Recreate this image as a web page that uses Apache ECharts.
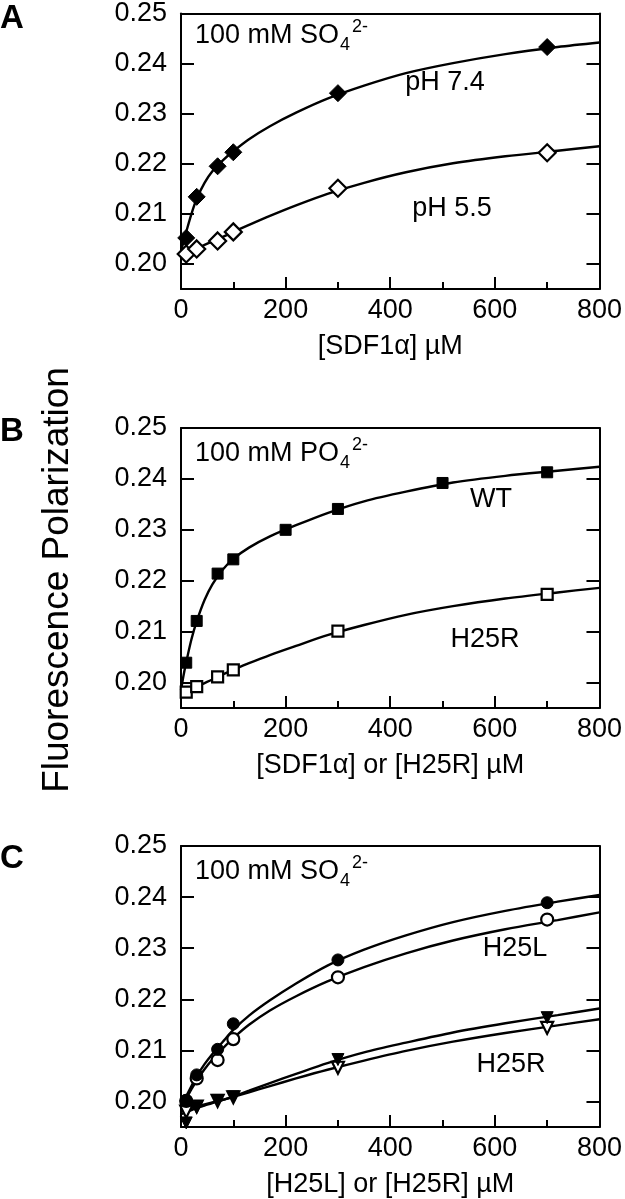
<!DOCTYPE html>
<html>
<head>
<meta charset="utf-8">
<script src="https://cdn.jsdelivr.net/npm/echarts@6/dist/echarts.min.js"></script>
<style>
html,body{margin:0;padding:0;background:#fff;}
#chart{width:625px;height:1199px;}
</style>
</head>
<body>
<div id="chart"></div>
<script>
// ---------- data ----------
const yTickValues = [0.20, 0.21, 0.22, 0.23, 0.24, 0.25];
const fitX = [0, 5, 10, 20, 30, 45, 60, 80, 100, 130, 170, 220, 280, 350, 430, 520, 620, 720, 800];

// Panel A (100 mM SO4)
const concA = [10, 30, 70, 100, 300, 700];
const pH74 = [0.2052, 0.2134, 0.2195, 0.2223, 0.2341, 0.2433];
const pH55 = [0.2020, 0.2030, 0.2046, 0.2064, 0.2151, 0.2222];
const fitPH74 = [0.2025, 0.2045, 0.2064, 0.2100, 0.2130, 0.2162, 0.2185, 0.2207, 0.2225, 0.2249, 0.2275, 0.2302, 0.2330, 0.2356, 0.2381, 0.2401, 0.2419, 0.2433, 0.2442];
const fitPH55 = [0.2015, 0.2018, 0.2021, 0.2026, 0.2031, 0.2038, 0.2045, 0.2054, 0.2064, 0.2078, 0.2096, 0.2117, 0.2140, 0.2162, 0.2183, 0.2201, 0.2215, 0.2226, 0.2235];

// Panel B (100 mM PO4)
const concBwt = [10, 30, 70, 100, 200, 300, 500, 700];
const wtB = [0.2039, 0.2121, 0.2214, 0.2242, 0.2300, 0.2341, 0.2392, 0.2413];
const concBr = [10, 30, 70, 100, 300, 700];
const h25rB = [0.1981, 0.1992, 0.2011, 0.2025, 0.2101, 0.2173];
const fitWtB = [0.1985, 0.2015, 0.2040, 0.2085, 0.2120, 0.2162, 0.2193, 0.2222, 0.2243, 0.2265, 0.2287, 0.2309, 0.2333, 0.2356, 0.2375, 0.2393, 0.2406, 0.2416, 0.2424];
const fitH25rB = [0.1975, 0.1978, 0.1981, 0.1987, 0.1992, 0.1999, 0.2006, 0.2016, 0.2025, 0.2038, 0.2054, 0.2072, 0.2093, 0.2113, 0.2133, 0.2150, 0.2165, 0.2177, 0.2186];

// Panel C (100 mM SO4)
const concC = [10, 30, 70, 100, 300, 700];
const h25lFilled = [0.2002, 0.2052, 0.2102, 0.2152, 0.2277, 0.2389];
const h25lOpen = [0.2001, 0.2045, 0.2081, 0.2122, 0.2243, 0.2356];
const h25rFilled = [0.1958, 0.1988, 0.2002, 0.2009, 0.2082, 0.2164];
const h25rOpen = [0.1980, 0.1990, 0.2001, 0.2008, 0.2066, 0.2144];
const fitH25lFilled = [0.1990, 0.2000, 0.2010, 0.2030, 0.2049, 0.2073, 0.2093, 0.2117, 0.2140, 0.2168, 0.2198, 0.2231, 0.2266, 0.2297, 0.2325, 0.2351, 0.2373, 0.2391, 0.2404];
const fitH25lOpen = [0.1990, 0.1998, 0.2006, 0.2024, 0.2041, 0.2063, 0.2082, 0.2104, 0.2124, 0.2150, 0.2178, 0.2206, 0.2235, 0.2263, 0.2290, 0.2315, 0.2337, 0.2355, 0.2370];
const fitH25rFilled = [0.1975, 0.1977, 0.1979, 0.1983, 0.1987, 0.1992, 0.1997, 0.2003, 0.2010, 0.2021, 0.2036, 0.2054, 0.2075, 0.2096, 0.2115, 0.2135, 0.2153, 0.2169, 0.2182];
const fitH25rOpen = [0.1982, 0.1983, 0.1985, 0.1987, 0.1990, 0.1994, 0.1998, 0.2003, 0.2009, 0.2018, 0.2030, 0.2045, 0.2062, 0.2080, 0.2099, 0.2117, 0.2134, 0.2149, 0.2161];

const xTitles = ['[SDF1\u03B1] \u00B5M', '[SDF1\u03B1] or [H25R] \u00B5M', '[H25L] or [H25R] \u00B5M'];
const panelLetters = ['A', 'B', 'C'];
const yTitle = 'Fluorescence Polarization';

// ---------- chart ----------
const FONT = '"Liberation Sans", Arial, Helvetica, sans-serif';
const grids = [
  {left: 181, width: 421, top: 9, height: 280},
  {left: 181, width: 421, top: 428, height: 280},
  {left: 181, width: 421, top: 846, height: 281}
];

const xAxes = [], yAxes = [];
grids.forEach((g, i) => {
  xAxes.push({
    gridIndex: i, type: 'value', min: 0, max: 800, interval: 200,
    position: 'bottom',
    name: xTitles[i], nameLocation: 'middle', nameGap: 44,
    nameTextStyle: {fontFamily: FONT, fontSize: 27, color: '#000'},
    axisLine: {show: true, onZero: false, lineStyle: {color: '#000', width: 2}},
    axisTick: {show: true, inside: true, length: 12, lineStyle: {color: '#000', width: 2}},
    minorTick: {show: true, splitNumber: 2, length: 7, lineStyle: {color: '#000', width: 2}},
    axisLabel: {fontFamily: FONT, fontSize: 27, color: '#000', margin: 8},
    splitLine: {show: false}
  });
  xAxes.push({
    gridIndex: i, type: 'value', min: 0, max: 800, interval: 200, position: 'top',
    axisLine: {show: true, onZero: false, lineStyle: {color: '#000', width: 2}},
    axisTick: {show: false}, axisLabel: {show: false}, splitLine: {show: false}
  });
  yAxes.push({
    gridIndex: i, type: 'value', min: 0.195, max: 0.25, position: 'left',
    axisLine: {show: true, onZero: false, lineStyle: {color: '#000', width: 2}},
    axisTick: {show: true, inside: true, length: 13, customValues: yTickValues, lineStyle: {color: '#000', width: 2}},
    axisLabel: {fontFamily: FONT, fontSize: 27, color: '#000', margin: 14, customValues: yTickValues,
      formatter: v => v.toFixed(2)},
    splitLine: {show: false}
  });
  yAxes.push({
    gridIndex: i, type: 'value', min: 0.195, max: 0.25, position: 'right',
    axisLine: {show: true, onZero: false, lineStyle: {color: '#000', width: 2}},
    axisTick: {show: true, inside: true, length: 13, customValues: yTickValues, lineStyle: {color: '#000', width: 2}},
    axisLabel: {show: false, customValues: yTickValues},
    splitLine: {show: false}
  });
});

function pairs(xs, ys) { return xs.map((x, k) => [x, ys[k]]); }

function fitLine(panel, ys) {
  return {
    type: 'line', xAxisIndex: panel * 2, yAxisIndex: panel * 2,
    data: pairs(fitX, ys), showSymbol: false, symbol: 'none',
    smooth: 0.3,
    lineStyle: {color: '#000', width: 2.4}, z: 2, silent: true
  };
}
function pts(panel, xs, ys, symbol, filled, size, rotate) {
  return {
    type: 'scatter', xAxisIndex: panel * 2, yAxisIndex: panel * 2,
    data: pairs(xs, ys), symbol: symbol, symbolSize: size, symbolRotate: rotate || 0,
    itemStyle: {color: filled ? '#000' : '#fff', borderColor: '#000', borderWidth: filled ? 1 : 2.2, opacity: 1},
    z: 5, silent: true
  };
}

const series = [
  fitLine(0, fitPH74), fitLine(0, fitPH55),
  pts(0, concA, pH55, 'diamond', false, 17),
  pts(0, concA, pH74, 'diamond', true, 17),

  fitLine(1, fitWtB), fitLine(1, fitH25rB),
  pts(1, concBr, h25rB, 'rect', false, 11),
  pts(1, concBwt, wtB, 'rect', true, 11),

  fitLine(2, fitH25lFilled), fitLine(2, fitH25lOpen),
  fitLine(2, fitH25rFilled), fitLine(2, fitH25rOpen),
  pts(2, concC, h25rOpen, 'triangle', false, 12, 180),
  pts(2, concC, h25rFilled, 'triangle', true, 12, 180),
  pts(2, concC, h25lOpen, 'circle', false, 12),
  pts(2, concC, h25lFilled, 'circle', true, 12)
];

function txt(x, y, s, size, align) {
  return {
    type: 'text', x: x, y: y, silent: true,
    style: {text: s, fontFamily: FONT, fontSize: size, fill: '#000', align: align || 'left', verticalAlign: 'middle'}
  };
}

const graphic = [];
// panel letters
[19, 432, 859].forEach((y, i) => {
  graphic.push({type: 'text', x: 0, y: y, silent: true,
    style: {text: panelLetters[i], fontFamily: FONT, fontSize: 33, fontWeight: 'bold', fill: '#000', align: 'left', verticalAlign: 'middle'}});
});
// salt annotations
const saltNames = ['SO', 'PO', 'SO'];
[36, 454, 872].forEach((y, i) => {
  graphic.push(txt(195, y, '100 mM ' + saltNames[i], 27));
  graphic.push(txt(340, y + 9, '4', 18));
  graphic.push(txt(352, y - 9, '2-', 18));
});
// curve labels
graphic.push(txt(445, 83, 'pH 7.4', 27, 'center'));
graphic.push(txt(452, 209, 'pH 5.5', 27, 'center'));
graphic.push(txt(491, 500, 'WT', 27, 'center'));
graphic.push(txt(485, 640, 'H25R', 27, 'center'));
graphic.push(txt(515, 949, 'H25L', 27, 'center'));
graphic.push(txt(511, 1065, 'H25R', 27, 'center'));
// shared y title
graphic.push({type: 'text', x: 58, y: 580, rotation: Math.PI / 2, silent: true,
  style: {text: yTitle, fontFamily: FONT, fontSize: 37, fill: '#000', align: 'center', verticalAlign: 'middle'}});

const chart = echarts.init(document.getElementById('chart'), null, {renderer: 'canvas'});
chart.setOption({
  animation: false,
  backgroundColor: '#fff',
  grid: grids.map(g => Object.assign({containLabel: false}, g)),
  xAxis: xAxes,
  yAxis: yAxes,
  series: series,
  graphic: graphic
});
</script>
</body>
</html>
